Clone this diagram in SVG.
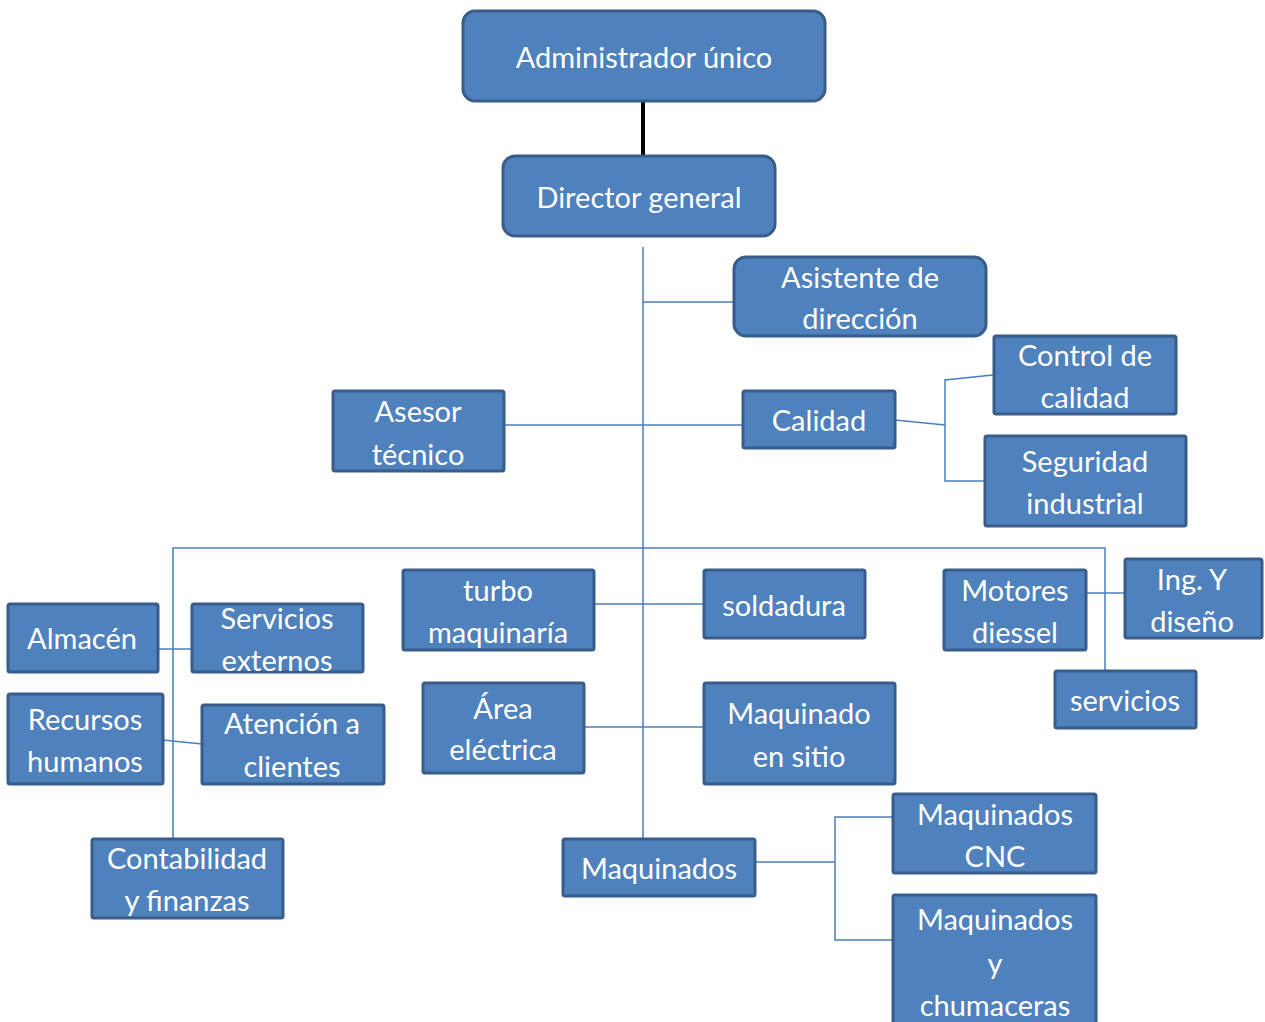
<svg xmlns="http://www.w3.org/2000/svg" width="1265" height="1022" viewBox="0 0 1265 1022">
<style>
.box{fill:#4f81bd;stroke:#385d8a;stroke-width:3}
.t{font-family:Lato,"Open Sans","Liberation Sans",sans-serif;font-size:29px;fill:#ffffff;text-anchor:middle}
.c{fill:none;stroke:#4a7ebb;stroke-width:1.5}
</style>
<rect width="1265" height="1022" fill="#ffffff"/>
<g id="connectors">
<line x1="643" y1="101" x2="643" y2="156" stroke="#000000" stroke-width="4"/>
<line class="c" x1="643" y1="247" x2="643" y2="838"/>
<line class="c" x1="643" y1="302" x2="734" y2="302"/>
<line class="c" x1="504" y1="425" x2="743" y2="425"/>
<polyline class="c" points="895,420 945,425"/>
<polyline class="c" points="993,375 945,380 945,481 985,481"/>
<polyline class="c" points="173,838 173,548 1105,548 1105,670"/>
<line class="c" x1="158" y1="649" x2="192" y2="649"/>
<line class="c" x1="163" y1="740" x2="202" y2="744"/>
<line class="c" x1="594" y1="604" x2="704" y2="604"/>
<line class="c" x1="584" y1="727" x2="704" y2="727"/>
<line class="c" x1="1086" y1="593" x2="1125" y2="593"/>
<line class="c" x1="755" y1="862" x2="835" y2="862"/>
<polyline class="c" points="893,817 835,817 835,940 893,940"/>
</g>
<g id="admin"><rect class="box" x="463" y="11" width="362" height="90" rx="12"/><text class="t" x="644" y="68">Administrador único</text></g>
<g id="director"><rect class="box" x="503" y="156" width="272" height="80" rx="12"/><text class="t" x="639" y="208">Director general</text></g>
<g id="asistente"><rect class="box" x="734" y="257" width="252" height="79" rx="12"/><text class="t" x="860" y="288">Asistente de</text><text class="t" x="860" y="329">dirección</text></g>
<g id="asesor"><rect class="box" x="333" y="391" width="171" height="80" rx="2"/><text class="t" x="418" y="422">Asesor</text><text class="t" x="418" y="465">técnico</text></g>
<g id="calidad"><rect class="box" x="743" y="391" width="152" height="57" rx="2"/><text class="t" x="819" y="431">Calidad</text></g>
<g id="control"><rect class="box" x="994" y="336" width="182" height="78" rx="2"/><text class="t" x="1085" y="366">Control de</text><text class="t" x="1085" y="408">calidad</text></g>
<g id="seguridad"><rect class="box" x="985" y="436" width="201" height="90" rx="2"/><text class="t" x="1085" y="472">Seguridad</text><text class="t" x="1085" y="514">industrial</text></g>
<g id="almacen"><rect class="box" x="8" y="604" width="150" height="68" rx="2"/><text class="t" x="82" y="649">Almacén</text></g>
<g id="servext"><rect class="box" x="192" y="604" width="171" height="68" rx="2"/><text class="t" x="277" y="629">Servicios</text><text class="t" x="277" y="671">externos</text></g>
<g id="rrhh"><rect class="box" x="8" y="694" width="155" height="90" rx="2"/><text class="t" x="85" y="730">Recursos</text><text class="t" x="85" y="772">humanos</text></g>
<g id="atencion"><rect class="box" x="202" y="705" width="182" height="79" rx="2"/><text class="t" x="292" y="734">Atención a</text><text class="t" x="292" y="777">clientes</text></g>
<g id="contabilidad"><rect class="box" x="92" y="839" width="191" height="79" rx="2"/><text class="t" x="187" y="869">Contabilidad</text><text class="t" x="187" y="911">y finanzas</text></g>
<g id="turbo"><rect class="box" x="403" y="570" width="191" height="80" rx="2"/><text class="t" x="498" y="601">turbo</text><text class="t" x="498" y="643">maquinaría</text></g>
<g id="soldadura"><rect class="box" x="704" y="570" width="161" height="68" rx="2"/><text class="t" x="784" y="616">soldadura</text></g>
<g id="electrica"><rect class="box" x="423" y="683" width="161" height="90" rx="2"/><text class="t" x="503" y="719">Área</text><text class="t" x="503" y="760">eléctrica</text></g>
<g id="sitio"><rect class="box" x="704" y="683" width="191" height="101" rx="2"/><text class="t" x="799" y="724">Maquinado</text><text class="t" x="799" y="767">en sitio</text></g>
<g id="motores"><rect class="box" x="944" y="570" width="142" height="80" rx="2"/><text class="t" x="1015" y="601">Motores</text><text class="t" x="1015" y="643">diessel</text></g>
<g id="ing"><rect class="box" x="1125" y="559" width="137" height="79" rx="2"/><text class="t" x="1192" y="590">Ing. Y</text><text class="t" x="1192" y="632">diseño</text></g>
<g id="servicios"><rect class="box" x="1055" y="671" width="141" height="57" rx="2"/><text class="t" x="1125" y="711">servicios</text></g>
<g id="maquinados"><rect class="box" x="563" y="839" width="192" height="57" rx="2"/><text class="t" x="659" y="879">Maquinados</text></g>
<g id="cnc"><rect class="box" x="893" y="794" width="203" height="79" rx="2"/><text class="t" x="995" y="825">Maquinados</text><text class="t" x="995" y="867">CNC</text></g>
<g id="chumaceras"><rect class="box" x="893" y="895" width="203" height="135" rx="2"/><text class="t" x="995" y="930">Maquinados</text><text class="t" x="995" y="974">y</text><text class="t" x="995" y="1016">chumaceras</text></g>
</svg>
